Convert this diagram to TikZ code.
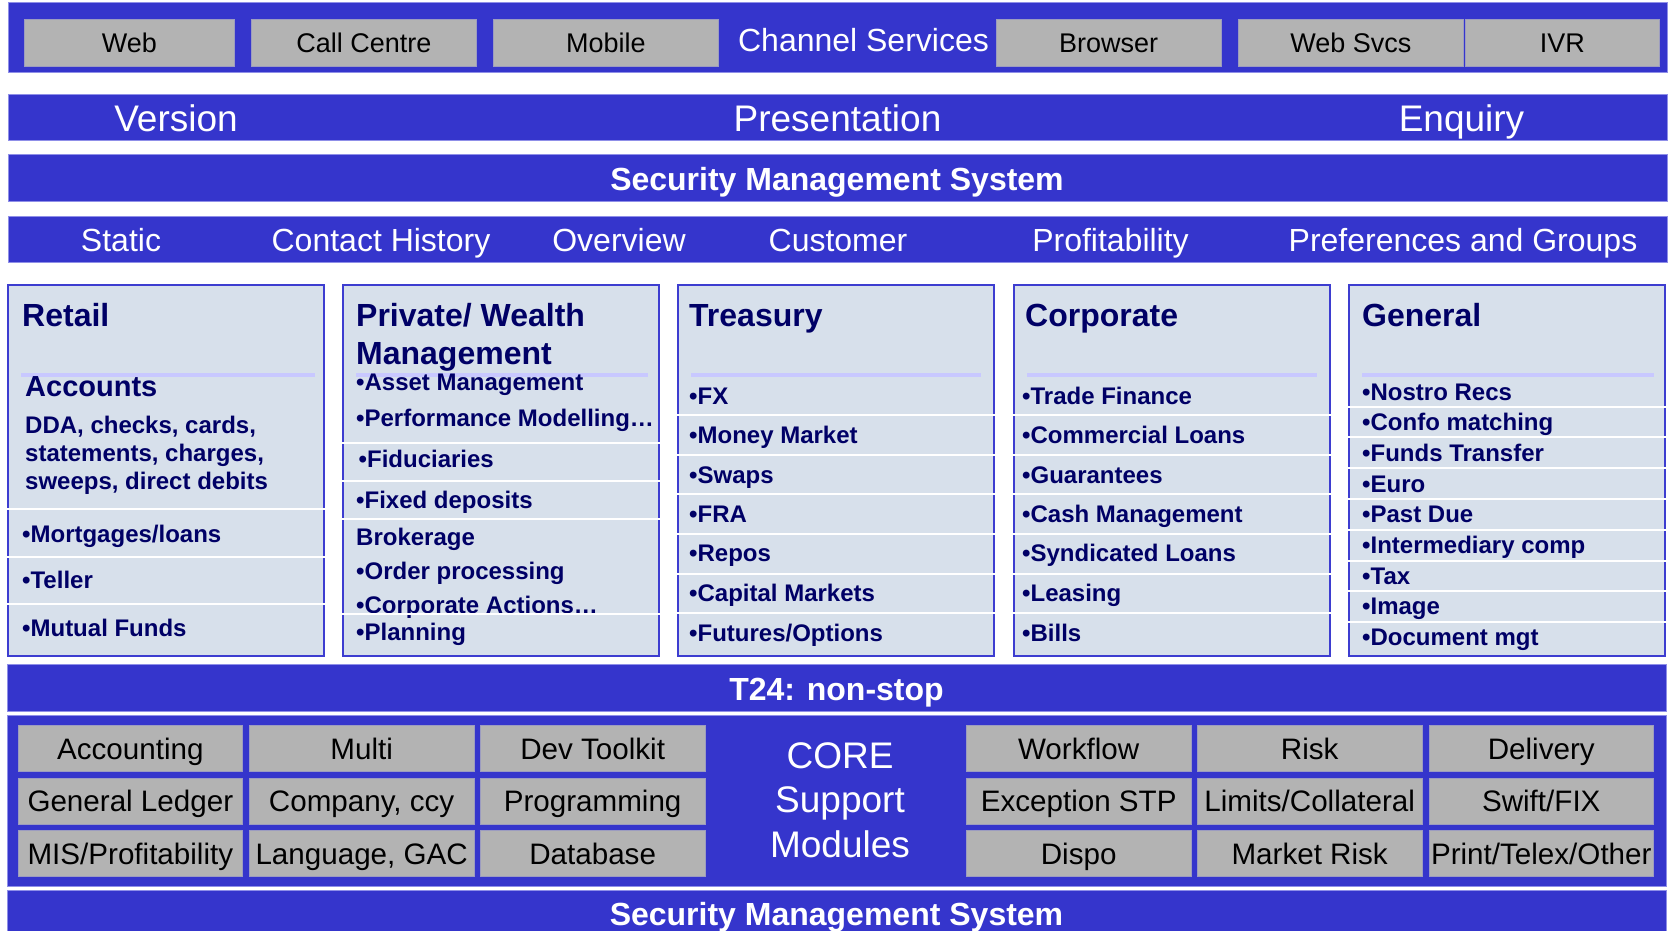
\documentclass[tikz,border=0pt]{standalone}
\usepackage{fontspec}
\setmainfont{Liberation Sans}
\definecolor{bandblue}{HTML}{3535CC}
\definecolor{bandedge}{HTML}{8F8FE8}
\definecolor{panel}{HTML}{D7E0EB}
\definecolor{paneledge}{HTML}{3D3DD0}
\definecolor{rulecol}{HTML}{C8C8FF}
\definecolor{navy}{HTML}{000066}
\definecolor{tilegrey}{HTML}{B3B3B3}
\definecolor{tileedge}{HTML}{9C9CC0}
\newcommand\fsz[1]{\fontsize{#1}{#1}\selectfont}

\begin{document}
\begin{tikzpicture}[x=1pt,y=-1pt,
  band/.style={fill=bandblue,draw=bandedge,line width=1pt},
  tile/.style={fill=tilegrey,draw=tileedge,line width=0.8pt,inner sep=0pt,
    anchor=north west,text=black,text depth=0pt},
  toptile/.style={tile,minimum height=47pt,font=\fsz{27},text height=19.3pt},
  coretile/.style={tile,minimum width=224.5pt,minimum height=46pt,font=\fsz{29.6},text height=21.2pt},
  panelbox/.style={fill=panel,draw=paneledge,line width=2pt},
  gap/.style={draw=white,line width=2pt},
  divider/.style={draw=rulecol,line width=3.5pt},
  bandtext/.style={inner sep=0pt,anchor=base,text=white},
  head/.style={inner sep=0pt,anchor=base west,text=navy,font=\fsz{32}\bfseries},
  item/.style={inner sep=0pt,anchor=base west,text=navy,font=\fsz{24}\bfseries},
]
\useasboundingbox (0,0) rectangle (1671,931);
\fill[white] (0,0) rectangle (1671,931);

% ---- channel services strip
\path[band] (8,3) rectangle (1667,73);
\node[toptile,minimum width=210pt]   (web)     at (24,19)   {Web};
\node[toptile,minimum width=225pt]   (callc)   at (251,19)  {Call Centre};
\node[toptile,minimum width=225pt]   (mobile)  at (493,19)  {Mobile};
\node[bandtext,font=\fsz{32}]        (chan)    at (863.5,52) {Channel Services};
\node[toptile,minimum width=224.5pt] (browser) at (996,19)  {Browser};
\node[toptile,minimum width=225pt]   (websvcs) at (1238,19) {Web Svcs};
\node[toptile,minimum width=194pt]   (ivr)     at (1465,19) {IVR};

% ---- presentation strip
\path[band] (8,95) rectangle (1667,141);
\node[bandtext,font=\fsz{37}] (version) at (176,131.5)    {Version};
\node[bandtext,font=\fsz{37}] (present) at (837.5,131.5)  {Presentation};
\node[bandtext,font=\fsz{37}] (enquiry) at (1461.5,131.5) {Enquiry};

% ---- security strip
\path[band] (8,155) rectangle (1667,201);
\node[bandtext,font=\fsz{32}\bfseries] (sec1) at (837,190) {Security Management System};

% ---- customer strip
\path[band] (8,216) rectangle (1667,262);
\node[bandtext,font=\fsz{32}] (static)  at (121,251.5)    {Static};
\node[bandtext,font=\fsz{32}] (contact) at (381,251.5)    {Contact History};
\node[bandtext,font=\fsz{32}] (overv)   at (619,251.5)    {Overview};
\node[bandtext,font=\fsz{32}] (cust)    at (838,251.5)    {Customer};
\node[bandtext,font=\fsz{32}] (profit)  at (1110.5,251.5) {Profitability};
\node[bandtext,font=\fsz{32}] (prefs)   at (1463,251.5)   {Preferences and Groups};

% ---- retail
\path[panelbox] (8,285) rectangle (324,656);
\draw[divider] (21,375) -- (315,375);
\node[head] (retail) at (22,326.5) {Retail};
\node[head,font=\fsz{29}\bfseries] (accts) at (25,396) {Accounts};
\node[item] (dda1) at (25,433)   {DDA, checks, cards,};
\node[item] (dda2) at (25,461)   {statements, charges,};
\node[item] (dda3) at (25,489.5) {sweeps, direct debits};
\foreach \y in {509,556.5,603.5} \draw[gap] (6,\y) -- (326,\y);
\node[item] (mortg)  at (22,542.5) {•Mortgages/loans};
\node[item] (teller) at (22,588.5) {•Teller};
\node[item] (mutual) at (22,636)   {•Mutual Funds};

% ---- private / wealth
\path[panelbox] (343,285) rectangle (659,656);
\draw[divider] (356,375) -- (648,375);
\node[head] (pw1) at (356,326.5) {Private/ Wealth};
\node[head] (pw2) at (356,364)   {Management};
\node[item] (asset)  at (356,390.5) {•Asset Management};
\node[item] (perf)   at (356,426)   {•Performance Modelling…};
\node[item] (fidu)   at (358.5,467.5) {•Fiduciaries};
\node[item] (fixed)  at (356,508)   {•Fixed deposits};
\node[item] (broker) at (356,545.5) {Brokerage};
\node[item] (order)  at (356,579.5) {•Order processing};
\node[item] (corpact) at (356,613)  {•Corporate Actions…};
\foreach \y in {443,480.5,518.5,614} \draw[gap] (341,\y) -- (661,\y);
\node[item] (plan)   at (356,640)   {•Planning};

% ---- treasury
\path[panelbox] (678,285) rectangle (994,656);
\draw[divider] (691,375) -- (981,375);
\node[head] (treas) at (689,326.5) {Treasury};
\foreach \y in {415,454.5,494,533.5,573.5,613} \draw[gap] (676,\y) -- (996,\y);
\node[item] (fx)    at (689,404)   {•FX};
\node[item] (mm)    at (689,443.5) {•Money Market};
\node[item] (swaps) at (689,483.5) {•Swaps};
\node[item] (fra)   at (689,522)   {•FRA};
\node[item] (repos) at (689,561.5) {•Repos};
\node[item] (capm)  at (689,601.5) {•Capital Markets};
\node[item] (fut)   at (689,641)   {•Futures/Options};

% ---- corporate
\path[panelbox] (1014,285) rectangle (1330,656);
\draw[divider] (1027,375) -- (1317,375);
\node[head] (corp) at (1025,326.5) {Corporate};
\foreach \y in {415,454.5,494,533.5,573.5,613} \draw[gap] (1012,\y) -- (1332,\y);
\node[item] (trade)  at (1022,404)   {•Trade Finance};
\node[item] (comm)   at (1022,443.5) {•Commercial Loans};
\node[item] (guar)   at (1022,483.5) {•Guarantees};
\node[item] (cash)   at (1022,522)   {•Cash Management};
\node[item] (synd)   at (1022,561.5) {•Syndicated Loans};
\node[item] (leas)   at (1022,601.5) {•Leasing};
\node[item] (bills)  at (1022,641)   {•Bills};

% ---- general
\path[panelbox] (1349,285) rectangle (1665,656);
\draw[divider] (1362,375) -- (1654,375);
\node[head] (gen) at (1362,326) {General};
\foreach \y in {407,437,468,499,529.5,560.5,591,622} \draw[gap] (1347,\y) -- (1667,\y);
\node[item] (nostro) at (1362,400)   {•Nostro Recs};
\node[item] (confo)  at (1362,430)   {•Confo matching};
\node[item] (funds)  at (1362,461.5) {•Funds Transfer};
\node[item] (euro)   at (1362,492.5) {•Euro};
\node[item] (past)   at (1362,522.5) {•Past Due};
\node[item] (inter)  at (1362,553.5) {•Intermediary comp};
\node[item] (tax)    at (1362,584)   {•Tax};
\node[item] (image)  at (1362,614.5) {•Image};
\node[item] (docm)   at (1362,645.5) {•Document mgt};

% ---- T24 strip
\path[band] (7,664.5) rectangle (1666,711.5);
\node[bandtext,font=\fsz{32}\bfseries] (t24) at (836.5,700.5) {T24: non-stop};

% ---- core support modules
\path[band] (7,715.5) rectangle (1666,886.5);
\node[coretile] (acc)   at (17.7,725)   {Accounting};
\node[coretile] (gl)    at (17.7,777.5) {General Ledger};
\node[coretile] (mis)   at (17.7,830)   {MIS/Profitability};
\node[coretile] (multi) at (249,725)    {Multi};
\node[coretile] (comp)  at (249,777.5)  {Company, ccy};
\node[coretile] (lang)  at (249,830)    {Language, GAC};
\node[coretile] (dev)   at (480,725)    {Dev Toolkit};
\node[coretile] (prog)  at (480,777.5)  {Programming};
\node[coretile] (db)    at (480,830)    {Database};
\node[coretile] (wf)    at (966,725)    {Workflow};
\node[coretile] (exc)   at (966,777.5)  {Exception STP};
\node[coretile] (dispo) at (966,830)    {Dispo};
\node[coretile] (risk)  at (1197,725)   {Risk};
\node[coretile] (lim)   at (1197,777.5) {Limits/Collateral};
\node[coretile] (mkt)   at (1197,830)   {Market Risk};
\node[coretile] (deliv) at (1428.6,725)   {Delivery};
\node[coretile] (swift) at (1428.6,777.5) {Swift/FIX};
\node[coretile] (print) at (1428.6,830)   {Print/Telex/Other};
\node[bandtext,font=\fsz{37}] (core1) at (840,768)   {CORE};
\node[bandtext,font=\fsz{37}] (core2) at (840,812.5) {Support};
\node[bandtext,font=\fsz{37}] (core3) at (840,857)   {Modules};

% ---- security strip (bottom)
\path[band] (7,890.5) rectangle (1666,940);
\node[bandtext,font=\fsz{32}\bfseries] (sec2) at (836.5,925) {Security Management System};
\end{tikzpicture}
\end{document}
